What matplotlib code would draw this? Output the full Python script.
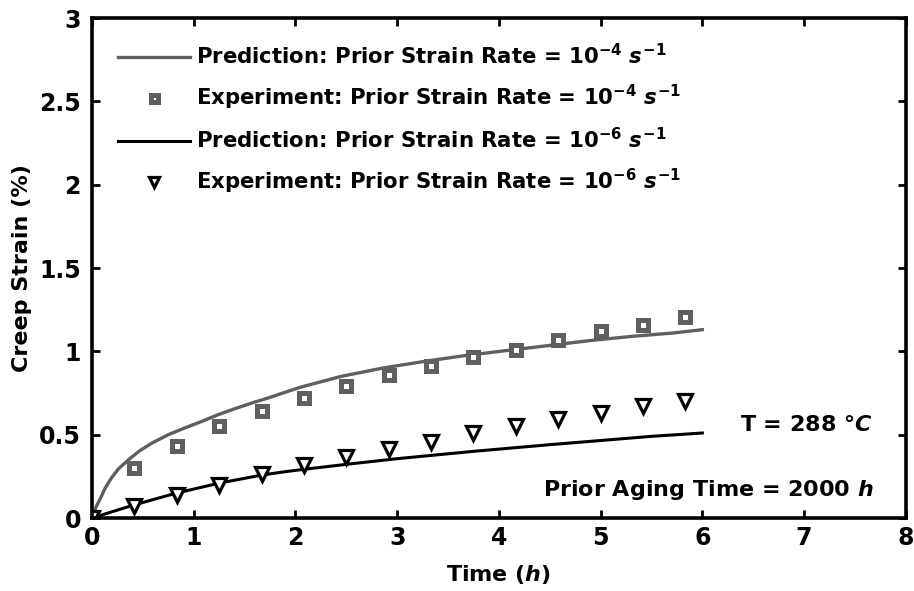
import matplotlib.pyplot as plt

plt.rcParams['font.family'] = 'DejaVu Sans'
plt.rcParams['font.weight'] = 'bold'
plt.rcParams['axes.labelweight'] = 'bold'
plt.rcParams['mathtext.fontset'] = 'custom'
plt.rcParams['mathtext.rm'] = 'DejaVu Sans:bold'
plt.rcParams['mathtext.it'] = 'DejaVu Sans:bold:italic'
plt.rcParams['mathtext.bf'] = 'DejaVu Sans:bold'

# experiment times (h)
t_exp = [0, 0.417, 0.833, 1.25, 1.667, 2.083, 2.5, 2.917, 3.333, 3.75,
         4.167, 4.583, 5.0, 5.417, 5.833]
# creep strain (%) measured, prior strain rate 1e-4 and 1e-6
exp_fast = [0, 0.30, 0.435, 0.55, 0.643, 0.718, 0.794, 0.86, 0.91, 0.966,
            1.01, 1.07, 1.12, 1.16, 1.205]
exp_slow = [0, 0.07, 0.136, 0.199, 0.263, 0.32, 0.366, 0.414, 0.456, 0.51,
            0.55, 0.594, 0.632, 0.67, 0.70]

# model predictions
t_fast = [0, 0.02, 0.05, 0.08, 0.13, 0.19, 0.26, 0.36, 0.46, 0.59, 0.75,
          0.91, 1.08, 1.24, 1.4, 1.57, 1.73, 1.9, 2.05, 2.45, 2.86, 3.27,
          3.67, 4.08, 4.49, 4.9, 5.31, 5.71, 6.0]
pred_fast = [0, 0.04, 0.08, 0.115, 0.18, 0.24, 0.295, 0.35, 0.40, 0.45,
             0.50, 0.54, 0.58, 0.62, 0.655, 0.69, 0.72, 0.755, 0.785, 0.85,
             0.90, 0.94, 0.975, 1.005, 1.035, 1.065, 1.09, 1.11, 1.13]
t_slow = [0, 0.41, 0.82, 1.24, 1.67, 1.9, 2.08, 2.5, 3.0, 3.75, 4.5, 5.0,
          5.5, 6.0]
pred_slow = [0, 0.078, 0.148, 0.208, 0.258, 0.278, 0.292, 0.322, 0.356,
             0.40, 0.44, 0.465, 0.49, 0.51]

gray = '#5f5f5f'

fig = plt.figure(figsize=(9.14, 5.91), dpi=100)
ax = fig.add_axes([0.1007, 0.1235, 0.8903, 0.846])

ax.plot(t_fast, pred_fast, color=gray, lw=2.4,
        label=r'Prediction: Prior Strain Rate = 10$^{-4}$ $s^{-1}$')
ax.plot(t_exp, exp_fast, ls='none', marker='s', ms=7.2, mfc='white',
        mec=gray, mew=3.6,
        label=r'Experiment: Prior Strain Rate = 10$^{-4}$ $s^{-1}$')
ax.plot(t_slow, pred_slow, color='black', lw=2.2,
        label=r'Prediction: Prior Strain Rate = 10$^{-6}$ $s^{-1}$')
ax.plot(t_exp, exp_slow, ls='none', marker='v', ms=10, mfc='white',
        mec='black', mew=2.3,
        label=r'Experiment: Prior Strain Rate = 10$^{-6}$ $s^{-1}$')

ax.set_xlim(0, 8)
ax.set_ylim(0, 3)
ax.set_xticks(range(0, 9))
ax.set_yticks([0, 0.5, 1, 1.5, 2, 2.5, 3])
ax.set_yticklabels(['0', '0.5', '1', '1.5', '2', '2.5', '3'])
ax.tick_params(direction='in', length=6, width=2, labelsize=17,
               top=True, right=True)
ax.tick_params(axis='y', pad=8)
ax.tick_params(axis='x', pad=6)
for sp in ax.spines.values():
    sp.set_linewidth(2.6)

ax.set_xlabel(r'Time ($h$)', fontsize=16, labelpad=9)
ax.set_ylabel('Creep Strain (%)', fontsize=16, labelpad=5)

ax.text(7.68, 0.56, r'T = 288 °$C$', fontsize=16, ha='right', va='center')
ax.text(7.68, 0.17, r'Prior Aging Time = 2000 $h$', fontsize=16,
        ha='right', va='center')

leg = ax.legend(loc='upper left', frameon=False, fontsize=15.3,
                handlelength=3.4, handletextpad=0.28, labelspacing=0.7,
                borderaxespad=0.0, markerscale=0.7,
                bbox_to_anchor=(0.021, 0.967))

fig.savefig('out.png', dpi=100)
